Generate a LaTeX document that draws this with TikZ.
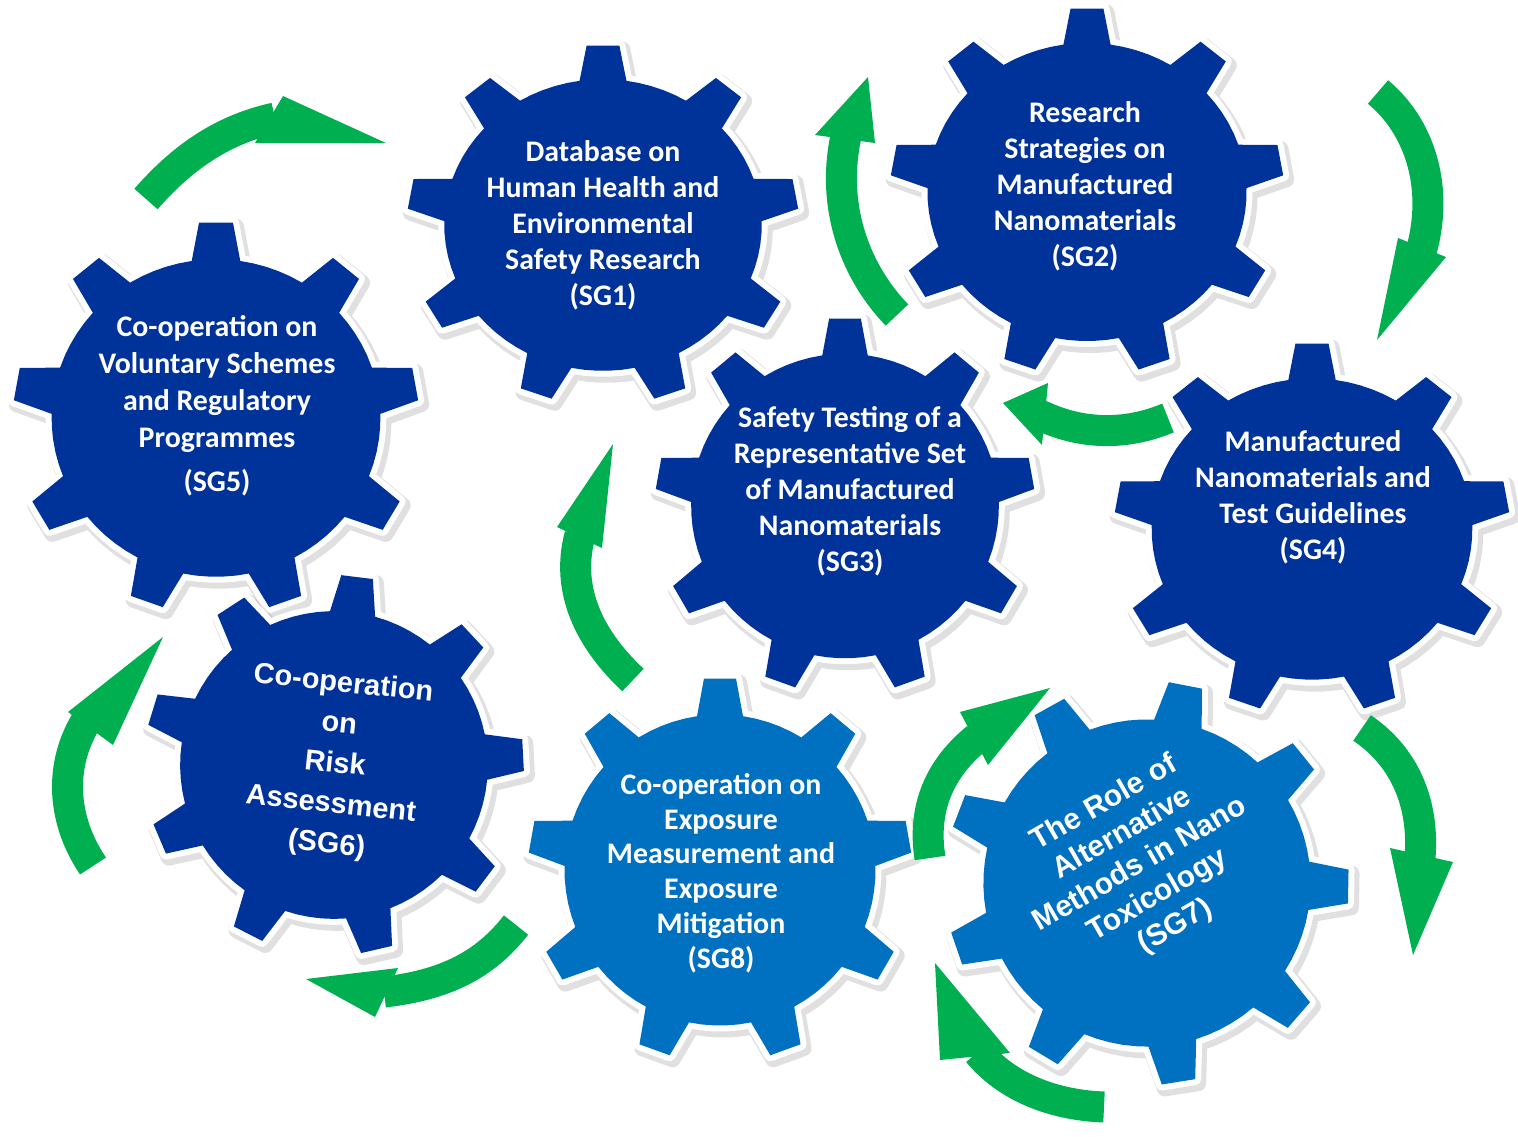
\documentclass[tikz,border=0pt]{standalone}
\usepackage{fontspec}
\newfontfamily\carlito{Carlito}
\newfontfamily\lsans{Liberation Sans}
\definecolor{dblue}{RGB}{0,51,153}
\definecolor{lblue}{RGB}{0,112,192}
\definecolor{agreen}{RGB}{0,176,80}
\tikzset{
  gtxt/.style={text=white, align=center, font=\carlito\bfseries\fontsize{17}{20.5}\selectfont, inner sep=0pt},
  atxt/.style={text=white, align=center, font=\lsans\bfseries\fontsize{16.5}{23}\selectfont, inner sep=0pt},
  shaft/.style={draw=agreen, line width=0.62cm},
  ahead/.style={fill=agreen},
}
\def\gearshape{(-98.5:0.81) \foreach \k in {0,...,8}{ -- ({-90+40*\k-4.8}:1) -- ({-90+40*\k+4.8}:1) -- ({-90+40*\k+8.5}:0.81) \foreach \j in {1,...,5}{ -- ({-90+40*\k+8.5+23*\j/5}:0.81)} } -- cycle}
\newcommand\gear[6]{%
  \begin{scope}[shift={({#1+3},{#2+4})}, rotate=#3, xscale=#4, yscale=#5]
    \path[fill=black, draw=black, opacity=0.12, line width=0.32cm, line join=round] \gearshape;
  \end{scope}
  \begin{scope}[shift={(#1,#2)}, rotate=#3, xscale=#4, yscale=#5]
    \path[fill=white, draw=white, line width=0.24cm, line join=round] \gearshape;
    \path[fill=#6] \gearshape;
  \end{scope}}
\begin{document}
\begin{tikzpicture}[x=0.02cm, y=-0.02cm]
\useasboundingbox (0,0) rectangle (1518,1136);
\fill[white] (0,0) rectangle (1518,1136);
% gears
\gear{603}{225}{0}{196}{180}{dblue}
\gear{1087}{192}{0}{197}{184}{dblue}
\gear{216}{418}{0}{203}{196}{dblue}
\gear{1312}{529}{0}{198}{186}{dblue}
\gear{845}{506}{0}{190}{188}{dblue}
\gear{334}{765}{-7}{190}{190}{dblue}
\gear{720}{870}{0}{192}{192}{lblue}
\gear{1147}{883}{29}{202}{202}{lblue}
% arrows
\draw[shaft] (146,199) .. controls (180,160) and (220,130) .. (275,118);
\fill[ahead] (283,96) -- (386,143) -- (255,143) -- cycle;
\draw[shaft] (897,315) .. controls (858,275) and (830,210) .. (846,136);
\fill[ahead] (815,135) -- (868,77) -- (875,143) -- cycle;
\draw[shaft] (1378,92) .. controls (1418,125) and (1440,185) .. (1421,252);
\fill[ahead] (1398,238) -- (1446,257) -- (1377,340) -- cycle;
\draw[shaft] (1168,418) .. controls (1120,438) and (1075,432) .. (1040,415);
\fill[ahead] (1048,383) -- (1003,403) -- (1042,445) -- cycle;
\draw[shaft] (633,680) .. controls (590,640) and (565,590) .. (580,535);
\fill[ahead] (557,527) -- (613,444) -- (602,548) -- cycle;
\draw[shaft] (93,866) .. controls (62,820) and (58,765) .. (88,718);
\fill[ahead] (68,712) -- (163,637) -- (113,745) -- cycle;
\draw[shaft] (516,925) .. controls (485,965) and (445,985) .. (384,992);
\fill[ahead] (398,968) -- (306,979) -- (375,1017) -- cycle;
\draw[shaft] (1104,1107) .. controls (1050,1105) and (1005,1085) .. (978,1052);
\fill[ahead] (940,1060) -- (935,963) -- (1010,1053) -- cycle;
\draw[shaft] (930,858) .. controls (922,808) and (940,768) .. (977,738);
\fill[ahead] (960,712) -- (1050,688) -- (988,765) -- cycle;
\draw[shaft] (1362,728) .. controls (1398,752) and (1425,795) .. (1420,858);
\fill[ahead] (1390,848) -- (1453,862) -- (1413,955) -- cycle;
% texts
\node[gtxt] (sg1) at (603,225) {Database on\\Human Health and\\Environmental\\Safety Research\\(SG1)};
\node[gtxt] (sg2) at (1085,186) {Research\\Strategies on\\Manufactured\\Nanomaterials\\(SG2)};
\node[gtxt] (sg3) at (850,491) {Safety Testing of a\\Representative Set\\of Manufactured\\Nanomaterials\\(SG3)};
\node[gtxt] (sg4) at (1313,497) {Manufactured\\Nanomaterials and\\Test Guidelines\\(SG4)};
\node[gtxt, font=\carlito\bfseries\fontsize{17}{21}\selectfont] (sg5) at (217,406) {Co-operation on\\Voluntary Schemes\\and Regulatory\\Programmes\\[4pt](SG5)};
\node[atxt, rotate=-6] (sg6) at (335,765) {Co-operation\\on\\Risk\\Assessment\\(SG6)};
\node[gtxt, font=\carlito\bfseries\fontsize{17}{19.8}\selectfont] (sg8) at (721,873) {Co-operation on\\Exposure\\Measurement and\\Exposure\\Mitigation\\(SG8)};
\node[atxt, rotate=30, font=\lsans\bfseries\fontsize{17}{20.2}\selectfont] (sg7) at (1140,865) {The Role of\\Alternative\\Methods in Nano\\Toxicology\\(SG7)};
\end{tikzpicture}
\end{document}
